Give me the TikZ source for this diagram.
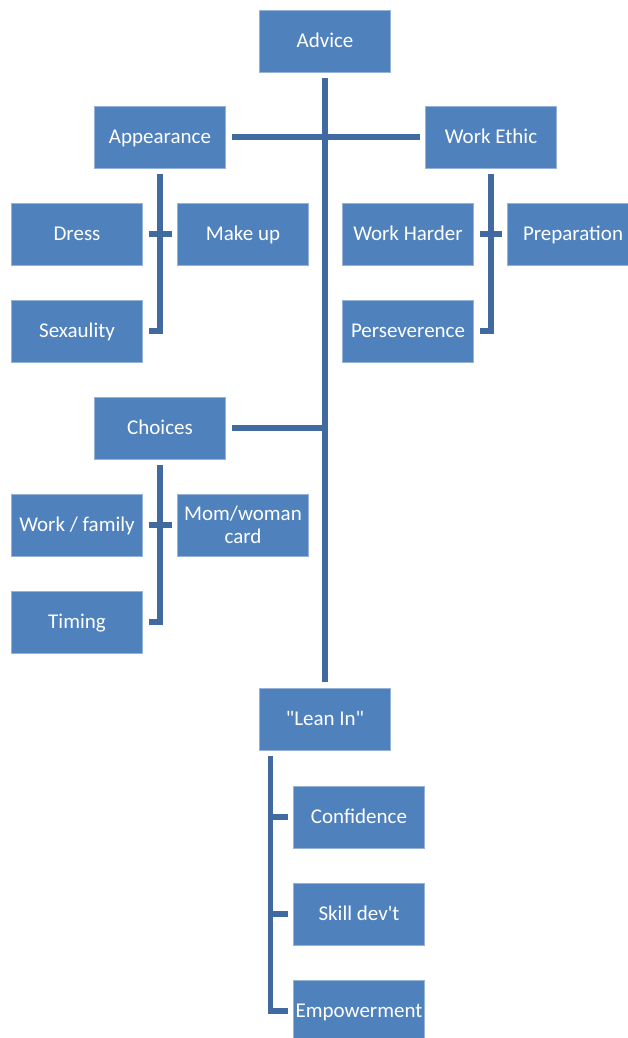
\documentclass[tikz,border=0pt]{standalone}
\usepackage{fontspec}
\newfontfamily\boxfont{Carlito}
\usepackage{tikz}

\definecolor{boxblue}{RGB}{79,129,189}
\definecolor{lineblue}{RGB}{65,106,160}

\tikzset{
  box/.style={shape=rectangle, fill=boxblue, draw=boxblue!60!white, line width=0.8pt,
    minimum width=131pt, minimum height=62pt, inner sep=2pt, outer sep=6pt,
    text height=15pt, text depth=2.5pt,
    text=white, align=center, font=\boxfont\fontsize{21}{23}\selectfont},
  link/.style={draw=lineblue, line width=5.5pt}
}

\begin{document}
\begin{tikzpicture}[x=1pt, y=-1pt]

	\useasboundingbox (0,0) rectangle (627,1038);

	\node[box] (advice) at (325, 41)   {Advice};
	\node[box] (appearance) at (160, 137)   {Appearance};
	\node[box] (workethic) at (491, 137)   {Work Ethic};

	\node[box] (dress) at (77, 234)   {Dress};
	\node[box] (makeup) at (243, 234)   {Make up};
	\node[box] (sexaulity) at (77, 331)   {Sexaulity};

	\node[box] (workharder) at (408, 234)   {Work Harder};
	\node[box] (preparation) at (573, 234)   {Preparation};
	\node[box] (perseverence) at (408, 331)   {Perseverence};

	\node[box] (choices) at (160, 428)   {Choices};
	\node[box] (workfamily) at (77, 525)   {Work / family};
	\node[box, text height=, text depth=] (momcard) at (243, 525)   {Mom/woman\\card};
	\node[box] (timing) at (77, 622)   {Timing};

	\node[box] (leanin) at (325, 719)   {"Lean In"};
	\node[box] (confidence) at (359, 817)   {Confidence};
	\node[box] (skilldev) at (359, 914)   {Skill dev't};
	\node[box] (empowerment) at (359, 1011)   {Empowerment};

	% main trunk
	\path[link] (advice.south) -- (leanin.north);
	\path[link] (appearance.east) -- (workethic.west);
	\path[link] (choices.east) -- (choices.east -| advice.south);

	% appearance
	\path[link] (appearance.south) |- (sexaulity.east);
	\path[link] (dress.east) -- (makeup.west);

	% work ethic
	\path[link] (workethic.south) |- (perseverence.east);
	\path[link] (workharder.east) -- (preparation.west);

	% choices
	\path[link] (choices.south) |- (timing.east);
	\path[link] (workfamily.east) -- (momcard.west);

	% lean in
	\coordinate (leantrunk) at ([xshift=17pt]leanin.south west);
	\path[link] (leantrunk) |- (empowerment.west);
	\path[link] (leantrunk |- confidence.west) -- (confidence.west);
	\path[link] (leantrunk |- skilldev.west) -- (skilldev.west);

\end{tikzpicture}
\end{document}
